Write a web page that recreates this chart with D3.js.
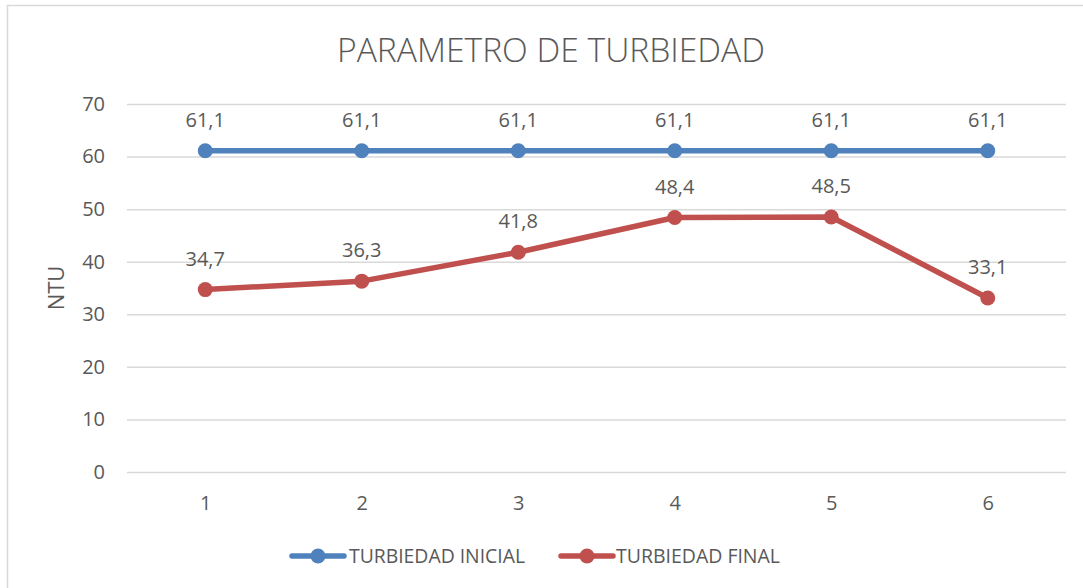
<!DOCTYPE html>
<html>
<head>
<meta charset="utf-8">
<script src="https://cdn.jsdelivr.net/npm/d3@7"></script>
<style>
  body { margin: 0; background: #fff; }
  svg { display: block; font-family: "Open Sans", "Noto Sans", sans-serif; }
</style>
</head>
<body>
<svg id="chart" width="1083" height="588"></svg>
<script>
const categories = ["1", "2", "3", "4", "5", "6"];
const turbiedadInicial = [61.1, 61.1, 61.1, 61.1, 61.1, 61.1];
const turbiedadFinal = [34.7, 36.3, 41.8, 48.4, 48.5, 33.1];
const yTicks = [0, 10, 20, 30, 40, 50, 60, 70];
const seriesNames = ["TURBIEDAD INICIAL", "TURBIEDAD FINAL"];
const seriesColors = ["#4F81BD", "#C0504D"];

const svg = d3.select("#chart");
const plot = { left: 127, right: 1066, top: 104, bottom: 472 };
const textColor = "#595959";
const fontFam = "'Open Sans', sans-serif";

// chart border
svg.append("rect")
  .attr("x", 7.5).attr("y", 5.5).attr("width", 1100).attr("height", 620)
  .attr("fill", "#fff").attr("stroke", "#D9D9D9").attr("stroke-width", 1.5);

const x = d3.scalePoint().domain(categories).range([plot.left, plot.right]).padding(0.5);
const y = d3.scaleLinear().domain([0, 70]).range([plot.bottom, plot.top]);

// title
svg.append("text")
  .attr("x", 551).attr("y", 62)
  .attr("text-anchor", "middle")
  .attr("font-size", 33).attr("font-weight", 300)
  .attr("fill", textColor)
  .attr("textLength", 428).attr("lengthAdjust", "spacingAndGlyphs")
  .text("PARAMETRO DE TURBIEDAD");

// grid + y axis
const yAxis = d3.axisLeft(y).tickValues(yTicks).tickSize(-(plot.right - plot.left)).tickPadding(22);
const gy = svg.append("g").attr("transform", `translate(${plot.left},0)`).call(yAxis);
gy.select(".domain").remove();
gy.selectAll(".tick line").attr("stroke", "#D9D9D9").attr("stroke-width", 1.5);
gy.selectAll(".tick text").attr("fill", textColor).attr("font-size", 20)
  .attr("font-family", fontFam);

// x axis
const xAxis = d3.axisBottom(x).tickSize(0).tickPadding(24);
const gx = svg.append("g").attr("transform", `translate(0,${plot.bottom})`).call(xAxis);
gx.select(".domain").remove();
gx.selectAll(".tick text").attr("fill", textColor).attr("font-size", 20)
  .attr("font-family", fontFam);

// y axis title
svg.append("text")
  .attr("transform", "translate(64,288) rotate(-90)")
  .attr("text-anchor", "middle")
  .attr("font-size", 22).attr("fill", textColor)
  .text("NTU");

const seriesData = [turbiedadInicial, turbiedadFinal];
const line = d3.line().x((d, i) => x(categories[i])).y(d => y(d));

seriesData.forEach((vals, s) => {
  const g = svg.append("g");
  g.append("path").datum(vals)
    .attr("d", line).attr("fill", "none")
    .attr("stroke", seriesColors[s]).attr("stroke-width", 5.5)
    .attr("stroke-linejoin", "round").attr("stroke-linecap", "round");
  g.selectAll("circle").data(vals).enter().append("circle")
    .attr("cx", (d, i) => x(categories[i])).attr("cy", d => y(d))
    .attr("r", 7.5).attr("fill", seriesColors[s]);
  g.selectAll("text").data(vals).enter().append("text")
    .attr("x", (d, i) => x(categories[i])).attr("y", d => y(d) - 24)
    .attr("text-anchor", "middle").attr("font-size", 20).attr("fill", textColor)
    .text(d => d.toFixed(1).replace(".", ","));
});

// legend
const legendItems = [
  { x0: 292, tx: 349, tl: 176 },
  { x0: 561, tx: 616, tl: 164 }
];
legendItems.forEach((it, s) => {
  const g = svg.append("g");
  g.append("line").attr("x1", it.x0).attr("x2", it.x0 + 52)
    .attr("y1", 556).attr("y2", 556)
    .attr("stroke", seriesColors[s]).attr("stroke-width", 5.5).attr("stroke-linecap", "round");
  g.append("circle").attr("cx", it.x0 + 26).attr("cy", 556).attr("r", 7.5).attr("fill", seriesColors[s]);
  g.append("text").attr("x", it.tx).attr("y", 563)
    .attr("font-size", 20).attr("fill", textColor)
    .attr("textLength", it.tl).attr("lengthAdjust", "spacingAndGlyphs")
    .text(seriesNames[s]);
});
</script>
</body>
</html>
